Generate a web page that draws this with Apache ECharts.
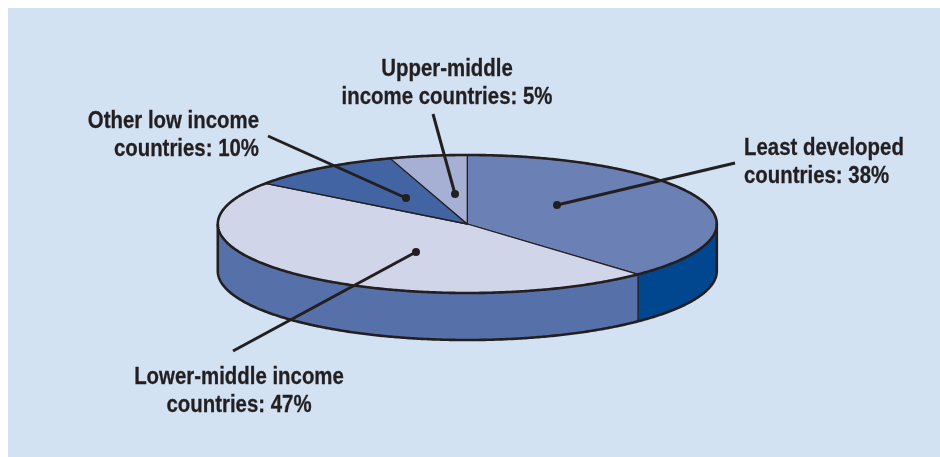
<!DOCTYPE html>
<html><head><meta charset="utf-8">
<style>html,body{margin:0;padding:0;background:#fff}#c{width:940px;height:457px}</style>
<script src="https://cdn.jsdelivr.net/npm/echarts@6/dist/echarts.min.js"></script>
</head><body><div id="c"></div>
<script>
const names = ['Least developed', 'Lower-middle income', 'Other low income', 'Upper-middle income'];
const shares = [38, 47, 10, 5];
const topColors = ['#6b80b5', '#d0d5e9', '#4264a3', '#a6b0d4'];
const sideColors = ['#00478f', '#5671a9', '#4264a3', '#a6b0d4'];

const ink = '#231f20';
const cx = 467.3, cy = 224, rx = 249.5, ry = 69, depth = 47;
const depthUnits = depth / ry;

let acc = 0;
const sliceRows = shares.map((v, i) => { const r = [acc, acc + v, i]; acc += v; return r; });
const pt = (api, deg, drop) => {
  const a = deg * Math.PI / 180;
  return api.coord([Math.sin(a), Math.cos(a) - (drop || 0)]);
};
const arc = (api, from, to, drop) => {
  const out = [], n = Math.max(2, Math.ceil(Math.abs(to - from) * 2));
  for (let k = 0; k <= n; k++) out.push(pt(api, from + (to - from) * k / n, drop));
  return out;
};
function renderSide(params, api) {
  const a = Math.max(api.value(0) * 3.6, 90), b = Math.min(api.value(1) * 3.6, 270);
  if (b <= a) return { type: 'group', children: [] };
  const i = api.value(2);
  const poly = arc(api, a, b, 0).concat(arc(api, b, a, depthUnits));
  const kids = [{ type: 'polygon', shape: { points: poly }, style: { fill: sideColors[i], stroke: null } }];
  if (a > 90) kids.push({ type: 'polyline', shape: { points: [pt(api, a, 0), pt(api, a, depthUnits)] }, style: { stroke: ink, lineWidth: 1.4, fill: null } });
  return { type: 'group', children: kids };
}
function renderTop(params, api) {
  const a = api.value(0) * 3.6, b = api.value(1) * 3.6, i = api.value(2);
  const poly = [api.coord([0, 0])].concat(arc(api, a, b, 0));
  return { type: 'polygon', shape: { points: poly }, style: { fill: topColors[i], stroke: ink, lineWidth: 1.3, lineJoin: 'round' } };
}
function renderRim(params, api) {
  return { type: 'group', children: [
    { type: 'polyline', shape: { points: arc(api, 0, 360, 0) }, style: { stroke: ink, lineWidth: 2.6, fill: null } },
    { type: 'polyline', shape: { points: [pt(api, 90, 0)].concat(arc(api, 90, 270, depthUnits), [pt(api, 270, 0)]) }, style: { stroke: ink, lineWidth: 2.6, fill: null } }
  ] };
}

const font = 'bold 24px "Liberation Sans", sans-serif';
const label = (x, y, align, lines) => ({
  type: 'text', x, y, z: 20, silent: true, scaleX: 0.85,
  style: { text: lines.join('\n'), fill: ink, stroke: ink, lineWidth: 0.3, font, align, verticalAlign: 'middle', lineHeight: 28 }
});
const leader = (x1, y1, x2, y2) => [
  { type: 'line', z: 10, silent: true, shape: { x1, y1, x2, y2 }, style: { stroke: ink, lineWidth: 3 } },
  { type: 'circle', z: 11, silent: true, shape: { cx: x2, cy: y2, r: 4 }, style: { fill: ink } }
];

const chart = echarts.init(document.getElementById('c'), null, { renderer: 'canvas' });
chart.setOption({
  animation: false,
  backgroundColor: '#ffffff',
  grid: { left: cx - rx, top: cy - ry, width: 2 * rx, height: 2 * ry },
  xAxis: { type: 'value', min: -1, max: 1, show: false },
  yAxis: { type: 'value', min: -1, max: 1, show: false },
  tooltip: { show: false },
  series: [
    { type: 'custom', silent: true, clip: false, z: 2, renderItem: renderSide, data: sliceRows },
    { type: 'custom', silent: true, clip: false, z: 3, renderItem: renderTop, data: sliceRows },
    { type: 'custom', silent: true, clip: false, z: 4, renderItem: renderRim, data: [[0]] }
  ],
  graphic: { elements: [
    { type: 'rect', z: -10, silent: true, shape: { x: 8, y: 8, width: 932, height: 449 }, style: { fill: '#d3e2f3' } },
    label(447, 83, 'center', ['Upper-middle', 'income countries: ' + shares[3] + '%']),
    label(259, 135, 'right', [names[2], 'countries: ' + shares[2] + '%']),
    label(744, 162, 'left', [names[0], 'countries: ' + shares[0] + '%']),
    label(239, 391, 'center', [names[1], 'countries: ' + shares[1] + '%']),
    ...leader(433, 114, 455, 194),
    ...leader(268, 136, 406, 198),
    ...leader(735, 163, 557, 205),
    ...leader(233, 351, 416, 252)
  ] }
});
</script></body></html>
